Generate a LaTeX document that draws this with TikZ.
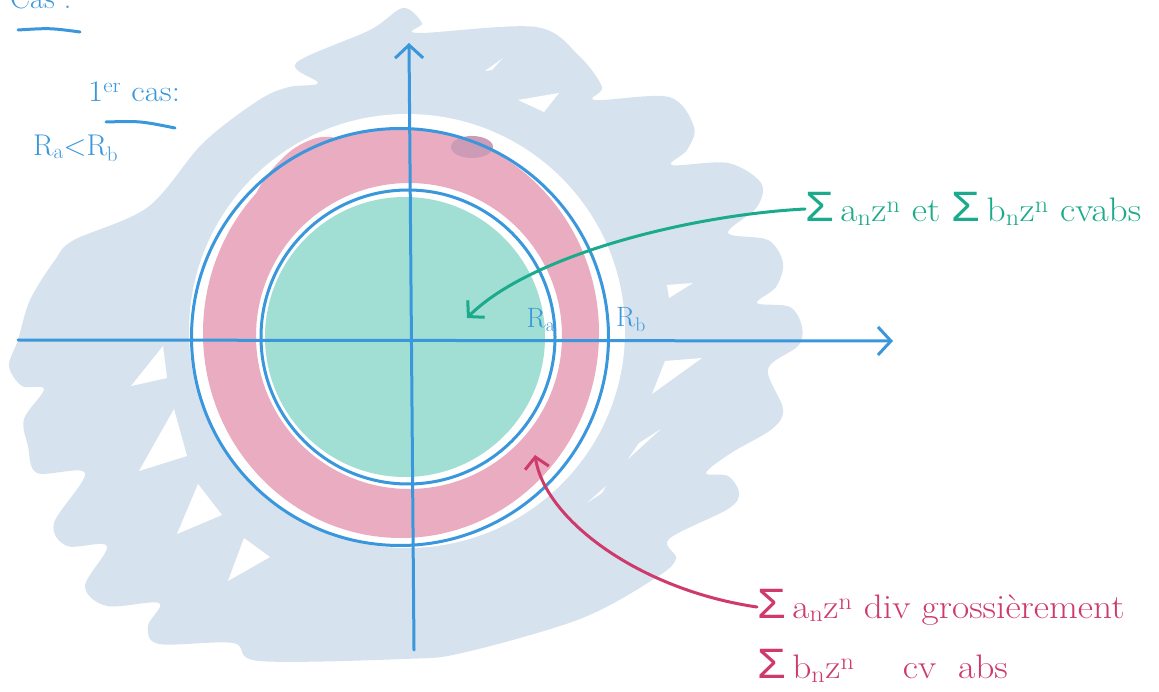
\documentclass[tikz,border=0pt]{standalone}
\usepackage{fontspec}
\newfontfamily\greekf{Liberation Sans}
\usetikzlibrary{arrows.meta}
\definecolor{axisblue}{HTML}{3A97DC}
\definecolor{blobblue}{HTML}{D6E2EE}
\definecolor{ringpink}{HTML}{EAACC0}
\definecolor{diskgreen}{HTML}{A1DFD4}
\definecolor{textgreen}{HTML}{1BAA8B}
\definecolor{textpink}{HTML}{CE3A6B}
\definecolor{mauve}{HTML}{CC9CB6}
\newcommand{\wide}[1]{\scalebox{1.1}[1]{#1}}
\newcommand{\Sg}{{\greekf\scalebox{1.25}{Σ}}\,}
\newcommand{\an}{a\textsubscript{n}z\textsuperscript{n}}
\newcommand{\bn}{b\textsubscript{n}z\textsuperscript{n}}
\begin{document}
\begin{tikzpicture}[x=1pt,y=-1pt,
  axis/.style={draw=axisblue, line width=3pt, line cap=round},
  axtip/.style={-{Straight Barb[length=13pt,width=28pt]}},
  circ/.style={draw=axisblue, line width=3pt},
  hand/.style={font=\fontsize{34}{38}\selectfont, inner sep=0pt, anchor=west},
  note/.style={font=\fontsize{30}{34}\selectfont, inner sep=0pt, anchor=west, text=axisblue},
  lbl/.style={font=\fontsize{28}{32}\selectfont, inner sep=0pt, text=axisblue},
  gap/.style={fill=white},
]
\useasboundingbox (0,0) rectangle (1159,692);

% scribbled background
\fill[blobblue] plot[smooth cycle, tension=0.55] coordinates {
 (296,63) (370,30) (403,8) (422,23) (418,33) (536,27) (580,57) (602,87) (595,100)
 (669,97) (694,127) (687,150) (672,165) (728,163) (761,183) (757,207) (728,233)
 (768,240) (783,263) (776,287) (757,303) (790,307) (802,327) (798,346) (768,369)
 (783,409) (772,429) (731,453) (706,473) (728,476) (739,493) (728,509) (669,539)
 (676,559) (654,579) (580,619) (462,653) (403,659) (259,661) (233,643) (159,644)
 (148,626) (159,603) (107,606) (85,586) (107,546) (67,546) (54,523) (85,473)
 (37,473) (28,446) (24,419) (44,389) (22,386) (9,366) (18,340) (30,300) (55,260)
 (74,240) (148,207) (203,143) (259,100) (289,87) (318,83)};
% white gaps in the scribble
\fill[gap] (163,346) -- (131,386) -- (167,378) -- cycle;
\fill[gap] (174,409) -- (139,471) -- (187,456) -- cycle;
\fill[gap] (198,484) -- (177,534) -- (222,515) -- cycle;
\fill[gap] (244,538) -- (228,581) -- (270,557) -- cycle;
\fill[gap] (518,100) -- (559,93) -- (544,112) -- cycle;
\fill[gap] (667,285) -- (693,283) -- (669,298) -- cycle;
\fill[gap] (665,361) -- (702,358) -- (652,394) -- cycle;
\fill[gap] (661,429) -- (628,459) -- (639,443) -- cycle;
\fill[gap] (606,486) -- (587,503) -- (602,493) -- cycle;
\fill[gap] (485,71) -- (503,58) -- (492,70) -- cycle;

% white ring round the discs
\fill[white] (407,331) ellipse [x radius=218, y radius=217];

% pink annulus
\fill[ringpink, even odd rule] (401,333) ellipse [x radius=198, y radius=205]
  (409,336) circle [radius=153];
\fill[ringpink] plot[smooth cycle, tension=0.6] coordinates {
  (255,205) (264,180) (292,150) (322,137) (340,145) (300,178)};
\fill[mauve] (472,147) ellipse [x radius=21, y radius=11];

% green disc
\fill[diskgreen] (405,337) circle [radius=140];

% circles
\draw[circ] (400,337) circle [radius=208.5];
\draw[circ] (408,337) circle [radius=147];

% axes
\coordinate (hstart) at (18,340);
\coordinate (hend) at (893,341);
\coordinate (vstart) at (414,650);
\coordinate (vend) at (409,43);
\draw[axis, axtip] (hstart) -- (hend);
\draw[axis, axtip] (vstart) -- (vend);

% radius labels
\node[lbl] (ra) at (541,320) {R\textsubscript{a}};
\node[lbl] (rb) at (631,320) {R\textsubscript{b}};

% green annotation
\node[hand, text=textgreen] (gtext) at (805,209) {\wide{\Sg\an{} et \Sg\bn{} cvabs}};
\coordinate (gtip) at (467,318);
\draw[textgreen, line width=3pt, line cap=round, -{Straight Barb[length=11pt,width=24pt]}]
  (gtext.west) .. controls (690,215) and (530,255) .. (gtip);

% pink annotation
\node[hand, text=textpink] (ptext1) at (757,607) {\wide{\Sg\an{} div grossièrement}};
\node[hand, text=textpink] (ptext2) at (757,666) {\wide{\Sg\bn\hspace{44pt}cv\hspace{20pt}abs}};
\coordinate (ptip) at (535,455);
\draw[textpink, line width=3pt, line cap=round, -{Straight Barb[length=11pt,width=24pt]}]
  (ptext1.west) .. controls (640,590) and (545,520) .. (ptip);

% top-left notes
\node[note, anchor=south west] (cas0) at (10,9) {Cas :};
\coordinate (u0a) at (18,30); \coordinate (u0b) at (80,32);
\draw[axis] (u0a) .. controls (50,28) .. (u0b);
\node[note] (cas1) at (88,92) {\scalebox{1.1}[1]{1\textsuperscript{er} cas:}};
\coordinate (u1a) at (106,122); \coordinate (u1b) at (175,128);
\draw[axis] (u1a) .. controls (140,121) .. (u1b);
\node[note] (rarb) at (33,148) {R\textsubscript{a}<R\textsubscript{b}};
\end{tikzpicture}
\end{document}
